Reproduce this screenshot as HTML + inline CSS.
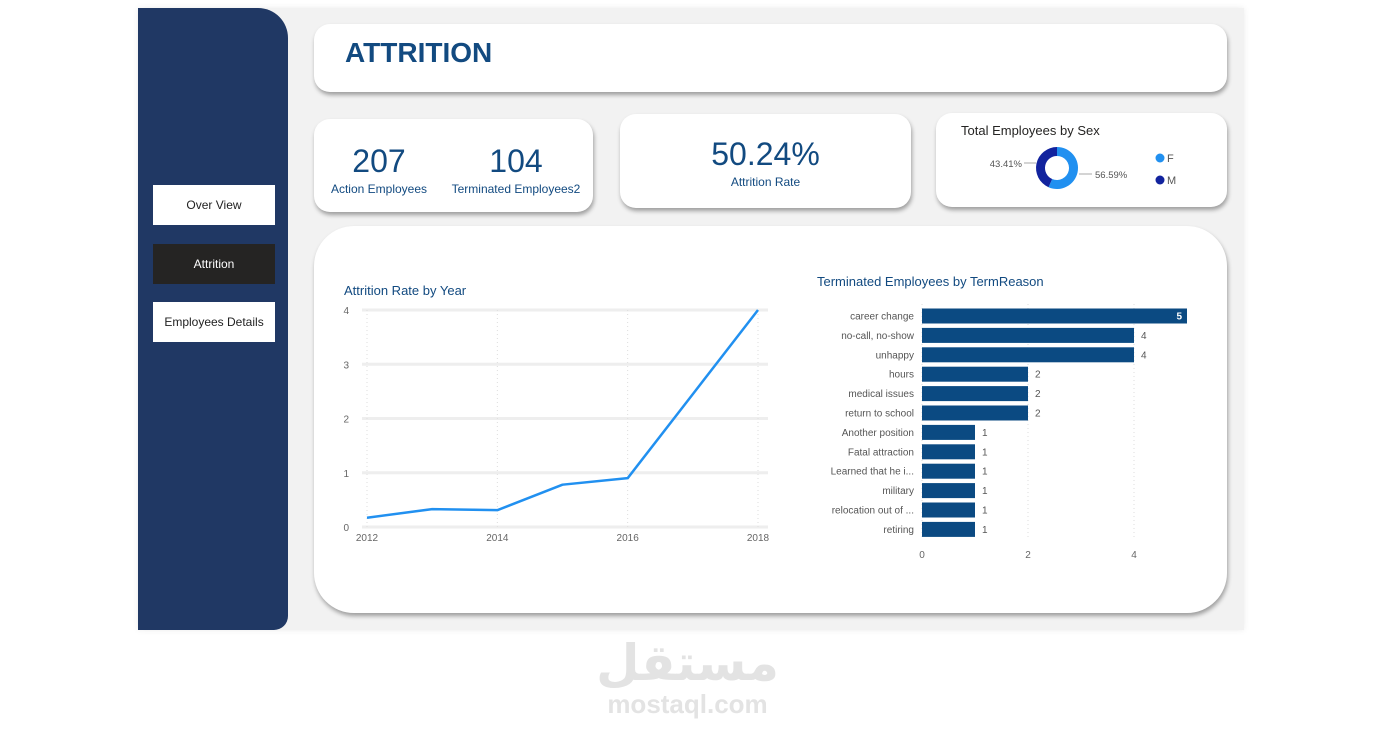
<!DOCTYPE html>
<html><head><meta charset="utf-8">
<style>
body{margin:0;width:1374px;height:737px;background:#fff;position:relative;overflow:hidden;font-family:"Liberation Sans","DejaVu Sans",sans-serif;}
.abs{position:absolute;}
.canvas{left:138px;top:8px;width:1106px;height:622px;background:#f2f2f2;box-shadow:0 0 6px rgba(0,0,0,.08);}
.side{left:138px;top:8px;width:150px;height:622px;background:#203864;border-radius:0 30px 14px 0;}
.card{background:#fff;border-radius:16px;box-shadow:1px 3px 4px rgba(0,0,0,.35);}
.btn{width:122px;height:40px;background:#fff;font-size:12px;color:#222;display:flex;align-items:center;justify-content:center;}
.kpi{color:#124a80;text-align:center;}
</style></head><body>
<div class="abs canvas"></div>
<div class="abs side"></div>
<div class="abs btn" style="left:153px;top:185px">Over View</div>
<div class="abs btn" style="left:153px;top:244px;background:#252423;color:#fff">Attrition</div>
<div class="abs btn" style="left:153px;top:302px">Employees Details</div>

<div class="abs card" style="left:314px;top:24px;width:913px;height:68px">
 <div class="abs" style="left:31px;top:13px;font-size:28px;font-weight:bold;color:#124a80">ATTRITION</div>
</div>

<div class="abs card" style="left:314px;top:119px;width:279px;height:93px">
 <div class="abs kpi" style="left:10px;top:24px;width:110px"><div style="font-size:32px">207</div><div style="font-size:12px;margin-top:2px">Action Employees</div></div>
 <div class="abs kpi" style="left:136px;top:24px;width:132px"><div style="font-size:32px">104</div><div style="font-size:12px;margin-top:2px">Terminated Employees2</div></div>
</div>

<div class="abs card" style="left:620px;top:114px;width:291px;height:94px">
 <div class="abs kpi" style="left:0;top:22px;width:291px"><div style="font-size:32px">50.24%</div><div style="font-size:12px;margin-top:2px">Attrition Rate</div></div>
</div>

<div class="abs card" style="left:936px;top:113px;width:291px;height:94px">
 <div class="abs" style="left:25px;top:10px;font-size:13px;color:#252423">Total Employees by Sex</div>
 <svg class="abs" style="left:0;top:0" width="291" height="94" id="donut"></svg>
</div>

<div class="abs card" style="left:314px;top:226px;width:913px;height:387px;border-radius:40px"></div>
<div class="abs" style="left:344px;top:283px;font-size:13px;color:#124a80">Attrition Rate by Year</div>
<div class="abs" style="left:817px;top:274px;font-size:13px;color:#124a80">Terminated Employees by TermReason</div>
<svg class="abs" style="left:0;top:0" width="1374" height="737" id="charts"></svg>

<div class="abs" style="left:595px;top:636px;width:185px;text-align:center;color:#e3e3e3;font-weight:bold"><div style="font-size:50px;font-family:'DejaVu Sans',sans-serif;line-height:54px">مستقل</div><div style="font-size:26px;line-height:28px">mostaql.com</div></div>

<script>
const years=[2012,2013,2014,2015,2016,2017,2018];
const rates=[0.17,0.33,0.31,0.78,0.9,2.45,4];
const yTicks=[0,1,2,3,4];
const xTicks=[2012,2014,2016,2018];
const reasons=["career change","no-call, no-show","unhappy","hours","medical issues","return to school","Another position","Fatal attraction","Learned that he i...","military","relocation out of ...","retiring"];
const counts=[5,4,4,2,2,2,1,1,1,1,1,1];
const barTicks=[0,2,4];
const sexLabels=["F","M"];
const sexShare=[56.59,43.41];

const NS="http://www.w3.org/2000/svg";
function mk(p,t,a,txt){const e=document.createElementNS(NS,t);for(const k in a)e.setAttribute(k,a[k]);if(txt!==undefined)e.textContent=txt;p.appendChild(e);return e;}
const svg=document.getElementById('charts');
const lx=y=>367+(y-2012)*(758-367)/6, ly=v=>527-v*(527-310)/4;
yTicks.forEach(t=>{
 const g=mk(svg,'line',{x1:362,x2:768,y1:ly(t),y2:ly(t),stroke:'#eeeeee','stroke-width':3});
 
 const l=mk(svg,'text',{x:349,y:ly(t)+4,'font-size':10,fill:'#666','text-anchor':'end'},t);
 
});
xTicks.forEach(t=>{
 const g=mk(svg,'line',{x1:lx(t),x2:lx(t),y1:310,y2:527,stroke:'#ddd','stroke-dasharray':'1,3'});
 
 const l=mk(svg,'text',{x:lx(t),y:541,'font-size':10,fill:'#666','text-anchor':'middle'},t);
 
});
const path=mk(svg,'polyline',{points:years.map((y,i)=>lx(y)+','+ly(rates[i])).join(' '),fill:'none',stroke:'#2190f0','stroke-width':2.5,'stroke-linejoin':'round'});

const bx=v=>922+v*53, rowH=19.4, by0=316;
barTicks.forEach(t=>{
 const g=mk(svg,'line',{x1:bx(t),x2:bx(t),y1:304,y2:540,stroke:'#ddd','stroke-dasharray':'1,3'});
 
 const l=mk(svg,'text',{x:bx(t),y:558,'font-size':10,fill:'#666','text-anchor':'middle'},t);
 
});
reasons.forEach((r,i)=>{
 const cy=by0+i*rowH;
 const l=mk(svg,'text',{x:914,y:cy+3.5,'font-size':10,fill:'#555','text-anchor':'end'},r);
 
 const b=mk(svg,'rect',{x:bx(0),y:cy-7.5,width:bx(counts[i])-bx(0),height:15,fill:'#0b4a82'});
 
 const inside=counts[i]===Math.max(...counts);
 const v=mk(svg,'text',{x:inside?bx(counts[i])-5:bx(counts[i])+7,y:cy+3.5,'font-size':10,fill:inside?'#fff':'#555','text-anchor':inside?'end':'start','font-weight':inside?'bold':'normal'},counts[i]);
 
});
const d=document.getElementById('donut');
const cx=121,cy=55,R=21,r0=12,cols=['#2190f0','#12239e'];
const tot=sexShare.reduce((a,b)=>a+b,0);let a0=-Math.PI/2;
sexShare.forEach((s,i)=>{
 const a1=a0+s/tot*2*Math.PI,lg=(a1-a0)>Math.PI?1:0;
 const p=(rr,a)=>(cx+rr*Math.cos(a))+','+(cy+rr*Math.sin(a));
 const seg=mk(d,'path',{d:`M${p(R,a0)}A${R},${R} 0 ${lg} 1 ${p(R,a1)}L${p(r0,a1)}A${r0},${r0} 0 ${lg} 0 ${p(r0,a0)}Z`,fill:cols[i]});
 
 a0=a1;
});
let e=mk(d,'line',{x1:143,x2:156,y1:61,y2:61,stroke:'#aaa'});
e=mk(d,'text',{x:159,y:65,'font-size':9.5,fill:'#555'},sexShare[0].toFixed(2)+'%');

mk(d,'line',{x1:88,x2:100,y1:50,y2:50,stroke:'#aaa'});
e=mk(d,'text',{x:86,y:54,'font-size':9.5,fill:'#555','text-anchor':'end'},sexShare[1].toFixed(2)+'%');

sexLabels.forEach((s,i)=>{
 const c=mk(d,'circle',{cx:224,cy:45+i*22,r:4.5,fill:cols[i]});
 
 const t=mk(d,'text',{x:231,y:49+i*22,'font-size':11,fill:'#555'},s);
 
});
</script>
</body></html>
